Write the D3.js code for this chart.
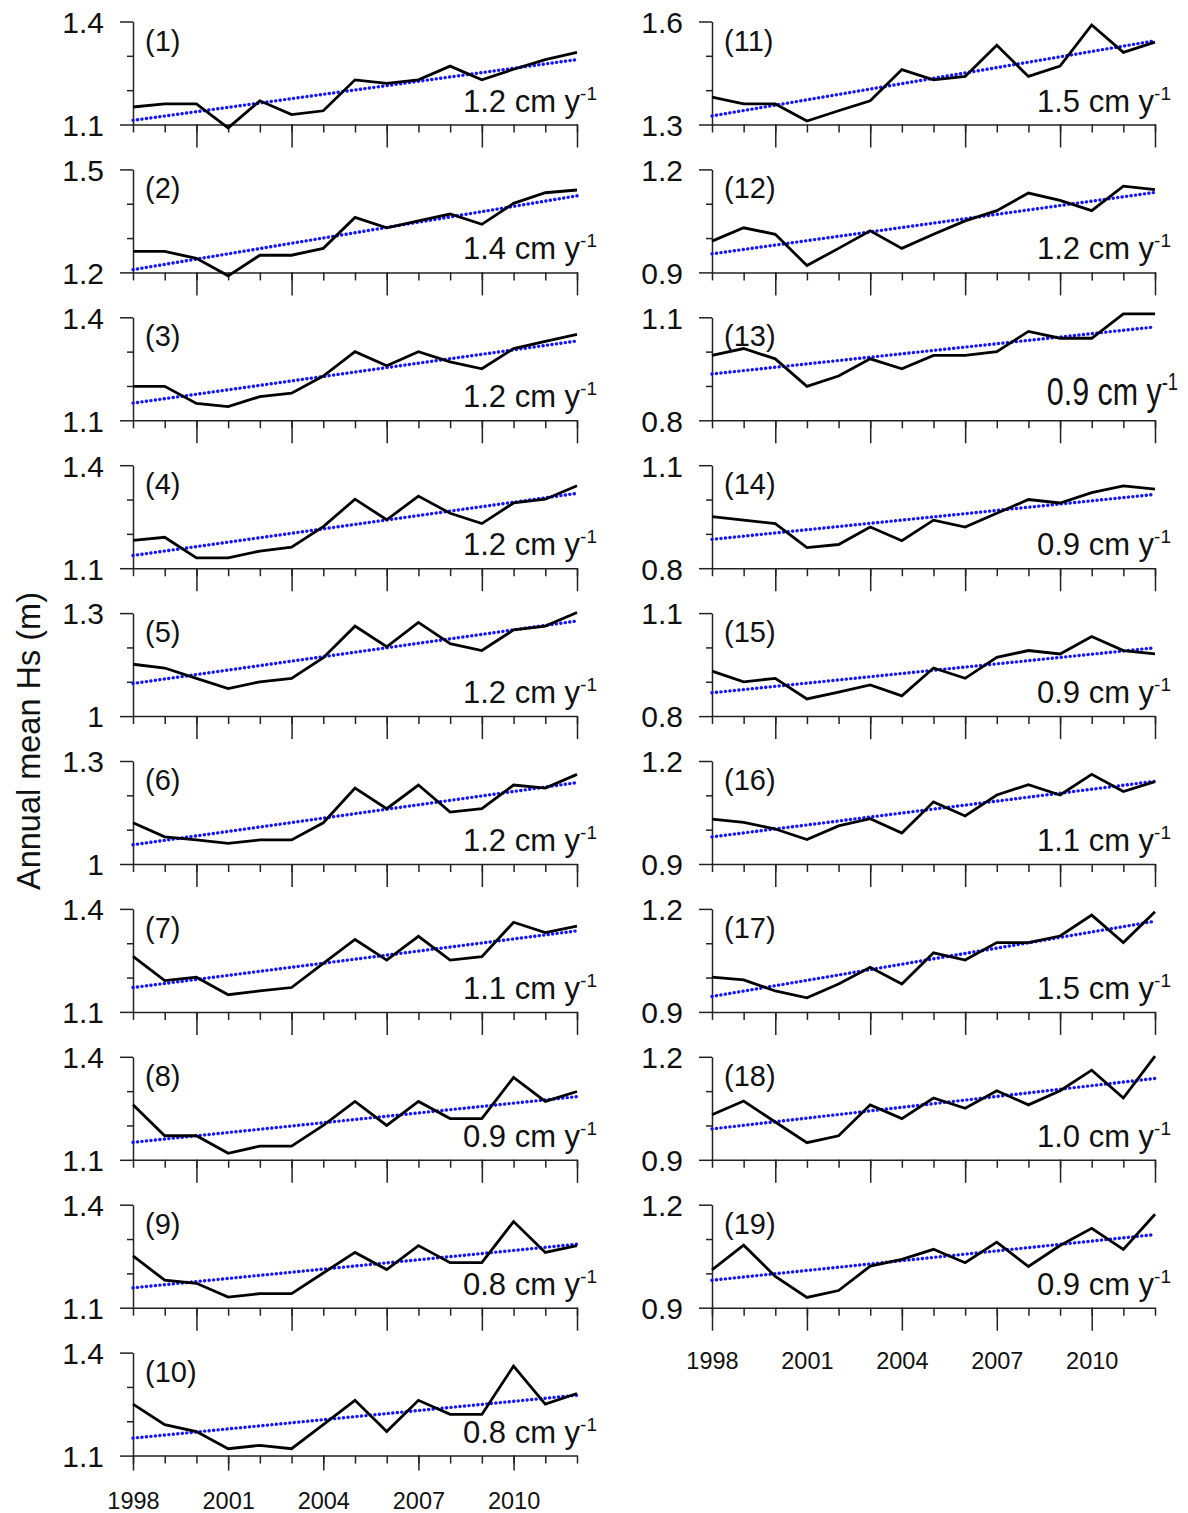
<!DOCTYPE html>
<html>
<head>
<meta charset="utf-8">
<script src="https://cdn.jsdelivr.net/npm/d3@7"></script>
<style>
  body { margin: 0; background: #fff; }
  svg { display: block; }
  text { font-family: "Liberation Sans", Arial, sans-serif; fill: #111; }
</style>
</head>
<body>
<div id="chart"></div>
<script>
// years on the x axis
const years = [1998, 1999, 2000, 2001, 2002, 2003, 2004, 2005, 2006, 2007, 2008, 2009, 2010, 2011, 2012];
const labelYears = [1998, 2001, 2004, 2007, 2010];
const longTickYears = [2000, 2003, 2006, 2009, 2012];

const panelNames = ['(1)', '(2)', '(3)', '(4)', '(5)', '(6)', '(7)', '(8)', '(9)', '(10)',
  '(11)', '(12)', '(13)', '(14)', '(15)', '(16)', '(17)', '(18)', '(19)'];
const rates = ['1.2', '1.4', '1.2', '1.2', '1.2', '1.2', '1.1', '0.9', '0.8', '0.8',
  '1.5', '1.2', '0.9', '0.9', '0.9', '1.1', '1.5', '1.0', '0.9'];

// y ranges and tick labels
const yMin = [1.1, 1.2, 1.1, 1.1, 1.0, 1.0, 1.1, 1.1, 1.1, 1.1, 1.3, 0.9, 0.8, 0.8, 0.8, 0.9, 0.9, 0.9, 0.9];
const yMax = [1.4, 1.5, 1.4, 1.4, 1.3, 1.3, 1.4, 1.4, 1.4, 1.4, 1.6, 1.2, 1.1, 1.1, 1.1, 1.2, 1.2, 1.2, 1.2];
const yTopLabels = ['1.4', '1.5', '1.4', '1.4', '1.3', '1.3', '1.4', '1.4', '1.4', '1.4',
  '1.6', '1.2', '1.1', '1.1', '1.1', '1.2', '1.2', '1.2', '1.2'];
const yBottomLabels = ['1.1', '1.2', '1.1', '1.1', '1', '1', '1.1', '1.1', '1.1', '1.1',
  '1.3', '0.9', '0.8', '0.8', '0.8', '0.9', '0.9', '0.9', '0.9'];

// annual mean Hs (m)
const hs1 = [1.151, 1.160, 1.160, 1.090, 1.169, 1.129, 1.140, 1.230, 1.220, 1.230, 1.270, 1.230, 1.261, 1.289, 1.310];
const hs2 = [1.261, 1.261, 1.241, 1.190, 1.250, 1.250, 1.270, 1.360, 1.330, 1.350, 1.370, 1.340, 1.401, 1.432, 1.440];
const hs3 = [1.199, 1.199, 1.149, 1.140, 1.169, 1.179, 1.229, 1.300, 1.259, 1.300, 1.270, 1.250, 1.309, 1.330, 1.350];
const hs4 = [1.181, 1.190, 1.130, 1.130, 1.150, 1.161, 1.221, 1.301, 1.241, 1.310, 1.260, 1.230, 1.290, 1.301, 1.340];
const hs5 = [1.151, 1.140, 1.110, 1.080, 1.100, 1.110, 1.170, 1.262, 1.202, 1.273, 1.211, 1.191, 1.251, 1.262, 1.302];
const hs6 = [1.120, 1.079, 1.070, 1.060, 1.070, 1.070, 1.120, 1.221, 1.161, 1.230, 1.151, 1.161, 1.230, 1.221, 1.261];
const hs7 = [1.262, 1.191, 1.201, 1.150, 1.161, 1.171, 1.241, 1.311, 1.251, 1.320, 1.251, 1.261, 1.361, 1.331, 1.350];
const hs8 = [1.260, 1.170, 1.170, 1.119, 1.140, 1.140, 1.200, 1.270, 1.200, 1.270, 1.220, 1.220, 1.340, 1.270, 1.299];
const hs9 = [1.251, 1.180, 1.171, 1.131, 1.141, 1.141, 1.201, 1.261, 1.211, 1.281, 1.231, 1.231, 1.351, 1.261, 1.281];
const hs10 = [1.250, 1.190, 1.170, 1.120, 1.130, 1.120, 1.190, 1.261, 1.170, 1.261, 1.220, 1.220, 1.361, 1.250, 1.281];
const hs11 = [1.380, 1.360, 1.360, 1.310, 1.340, 1.369, 1.460, 1.430, 1.440, 1.531, 1.440, 1.470, 1.590, 1.510, 1.540];
const hs12 = [0.991, 1.030, 1.011, 0.920, 0.970, 1.021, 0.970, 1.011, 1.050, 1.080, 1.131, 1.110, 1.080, 1.151, 1.141];
const hs13 = [0.989, 1.009, 0.979, 0.899, 0.929, 0.979, 0.950, 0.989, 0.989, 1.000, 1.059, 1.039, 1.039, 1.110, 1.110];
const hs14 = [0.950, 0.940, 0.930, 0.860, 0.869, 0.920, 0.880, 0.940, 0.920, 0.960, 1.000, 0.990, 1.020, 1.040, 1.030];
const hs15 = [0.931, 0.900, 0.910, 0.850, 0.870, 0.891, 0.859, 0.940, 0.910, 0.971, 0.991, 0.981, 1.032, 0.991, 0.981];
const hs16 = [1.031, 1.021, 1.002, 0.971, 1.011, 1.032, 0.990, 1.081, 1.040, 1.101, 1.131, 1.101, 1.161, 1.111, 1.140];
const hs17 = [1.001, 0.993, 0.961, 0.941, 0.981, 1.030, 0.981, 1.072, 1.051, 1.102, 1.102, 1.121, 1.182, 1.102, 1.192];
const hs18 = [1.031, 1.071, 1.010, 0.950, 0.970, 1.060, 1.020, 1.080, 1.050, 1.101, 1.060, 1.101, 1.161, 1.080, 1.202];
const hs19 = [1.010, 1.082, 0.991, 0.930, 0.950, 1.021, 1.041, 1.070, 1.031, 1.091, 1.020, 1.081, 1.131, 1.070, 1.172];

// trend line values at 1998 and 2012
const trendStart = [1.112, 1.208, 1.150, 1.137, 1.095, 1.056, 1.171, 1.151, 1.158, 1.151,
  1.325, 0.954, 0.935, 0.884, 0.868, 0.979, 0.945, 0.990, 0.980];
const trendEnd = [1.289, 1.423, 1.331, 1.318, 1.277, 1.237, 1.336, 1.284, 1.285, 1.276,
  1.544, 1.133, 1.072, 1.015, 0.999, 1.141, 1.164, 1.137, 1.113];

const series = [hs1, hs2, hs3, hs4, hs5, hs6, hs7, hs8, hs9, hs10,
  hs11, hs12, hs13, hs14, hs15, hs16, hs17, hs18, hs19];

const width = 1188, height = 1513;
const svg = d3.select('#chart').append('svg')
  .attr('width', width)
  .attr('height', height);

const colLeft = [133, 712];
const colRight = [577, 1155];
const rowsPerCol = [10, 9];
const panelH = 103, rowStep = 147.9, firstTop = 21.5;
const fontStack = '"Liberation Sans", Arial, sans-serif';

function styleAxis(sel) {
  sel.selectAll('path, line').attr('stroke', '#222').attr('stroke-width', 1.5);
  sel.selectAll('text').attr('fill', '#111').attr('font-family', fontStack);
}

series.forEach((values, i) => {
  const col = i < 10 ? 0 : 1;
  const row = col === 0 ? i : i - 10;
  const isBottom = row === rowsPerCol[col] - 1;

  const x = d3.scaleLinear().domain([1998, 2012]).range([0, colRight[col] - colLeft[col]]);
  const y = d3.scaleLinear().domain([yMin[i], yMax[i]]).range([panelH, 0]);

  const g = svg.append('g')
    .attr('transform', `translate(${colLeft[col]},${firstTop + row * rowStep})`);

  // y axis: small inner ticks, long end ticks with labels
  g.append('g')
    .call(d3.axisLeft(y)
      .tickValues([yMin[i] + 0.1, yMin[i] + 0.2])
      .tickSize(6).tickSizeOuter(0).tickFormat(''))
    .call(styleAxis);
  g.append('g')
    .call(d3.axisLeft(y)
      .tickValues([yMin[i], yMax[i]])
      .tickSize(13).tickSizeOuter(0).tickPadding(16)
      .tickFormat((d, j) => j === 0 ? yBottomLabels[i] : yTopLabels[i]))
    .call(styleAxis)
    .call(a => a.select('.domain').remove())
    .selectAll('text').attr('font-size', 30).attr('dy', '0.36em');

  // x axis: a tick every year, longer ones every third year
  g.append('g')
    .attr('transform', `translate(0,${panelH})`)
    .call(d3.axisBottom(x).tickValues(years).tickSize(8).tickSizeOuter(0).tickFormat(''))
    .call(styleAxis);
  const major = g.append('g')
    .attr('transform', `translate(0,${panelH})`)
    .call(d3.axisBottom(x)
      .tickValues(isBottom ? labelYears : longTickYears)
      .tickSize(isBottom && col === 0 ? 15 : 23)
      .tickPadding(22)
      .tickFormat(isBottom ? d3.format('d') : ''))
    .call(styleAxis)
    .call(a => a.select('.domain').remove());
  major.selectAll('text').attr('font-size', 23.5);

  // trend line (blue dots)
  g.append('path')
    .datum([[1998, trendStart[i]], [2012, trendEnd[i]]])
    .attr('d', d3.line().x(d => x(d[0])).y(d => y(d[1])))
    .attr('fill', 'none')
    .attr('stroke', '#1414ff')
    .attr('stroke-width', 3.4)
    .attr('stroke-linecap', 'round')
    .attr('stroke-dasharray', '0.1 4.4');

  // annual mean line
  g.append('path')
    .datum(values)
    .attr('d', d3.line().x((d, k) => x(years[k])).y(d => y(d)))
    .attr('fill', 'none')
    .attr('stroke', '#000')
    .attr('stroke-width', 2.8);

  // panel number
  g.append('text')
    .attr('x', 12)
    .attr('y', 29)
    .attr('font-size', 29)
    .text(panelNames[i]);

  // trend rate
  const big = i === 12;
  const rate = g.append('text')
    .attr('text-anchor', 'end')
    .attr('font-size', big ? 38 : 31)
    .attr('transform', big
      ? `translate(${colRight[col] - colLeft[col] + 23},${panelH - 15}) scale(0.8,1)`
      : `translate(${colRight[col] - colLeft[col] + (col === 0 ? 20 : 16)},${panelH - 13})`);
  rate.append('tspan').text(rates[i] + ' cm y');
  rate.append('tspan')
    .attr('font-size', big ? 23 : 19)
    .attr('dy', big ? -15 : -12)
    .text('-1');
});

// shared y title
svg.append('text')
  .attr('transform', 'translate(40,741) rotate(-90)')
  .attr('text-anchor', 'middle')
  .attr('font-size', 32.5)
  .text('Annual mean Hs (m)');
</script>
</body>
</html>
